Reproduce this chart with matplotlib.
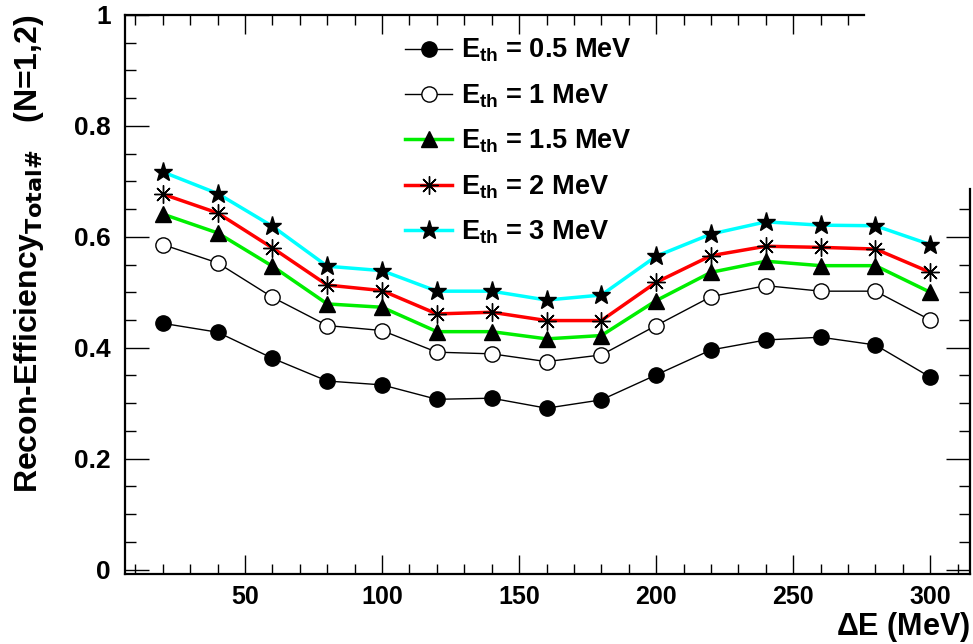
import numpy as np
import matplotlib
matplotlib.use("Agg")
import matplotlib.pyplot as plt
from matplotlib.ticker import MultipleLocator

plt.rcParams['font.family'] = ['Liberation Sans', 'DejaVu Sans']
plt.rcParams['font.weight'] = 'bold'
plt.rcParams['mathtext.fontset'] = 'custom'
plt.rcParams['mathtext.rm'] = 'Liberation Sans:bold'
plt.rcParams['mathtext.bf'] = 'Liberation Sans:bold'
plt.rcParams['mathtext.it'] = 'Liberation Sans:bold'
plt.rcParams['mathtext.default'] = 'bf'

# data
delta_e = [20, 40, 60, 80, 100, 120, 140, 160, 180, 200, 220, 240, 260, 280, 300]
eff_05 = [0.444, 0.428, 0.381, 0.340, 0.333, 0.307, 0.309, 0.291, 0.306, 0.351,
          0.396, 0.414, 0.419, 0.405, 0.347]
eff_1 = [0.586, 0.553, 0.491, 0.440, 0.431, 0.392, 0.389, 0.375, 0.387, 0.440,
         0.492, 0.512, 0.502, 0.502, 0.450]
eff_15 = [0.641, 0.607, 0.547, 0.479, 0.473, 0.429, 0.429, 0.416, 0.422, 0.485,
          0.536, 0.556, 0.548, 0.548, 0.500]
eff_2 = [0.677, 0.643, 0.580, 0.513, 0.503, 0.461, 0.464, 0.449, 0.449, 0.518,
         0.566, 0.583, 0.581, 0.578, 0.536]
eff_3 = [0.717, 0.678, 0.619, 0.547, 0.539, 0.502, 0.502, 0.486, 0.495, 0.565,
         0.605, 0.627, 0.621, 0.620, 0.586]
labels = ["E$_{th}$ = 0.5 MeV", "E$_{th}$ = 1 MeV", "E$_{th}$ = 1.5 MeV",
          "E$_{th}$ = 2 MeV", "E$_{th}$ = 3 MeV"]

W, H = 973, 644
fig = plt.figure(figsize=(W / 100, H / 100), dpi=100)
ax = fig.add_axes([125 / W, (H - 574) / H, (970 - 125) / W, (574 - 15) / H])

x_lo, x_hi = 6.2, 314.5
y_lo, y_hi = -0.008, 1.0

ax.plot(delta_e, eff_05, color='black', lw=1.0, marker='o', ms=11,
        mfc='black', mec='black', label=labels[0])
ax.plot(delta_e, eff_1, color='black', lw=1.0, marker='o', ms=11,
        mfc='white', mec='black', mew=1.0, label=labels[1])
ax.plot(delta_e, eff_15, color='#00ee00', lw=2.5, marker='^', ms=11,
        mfc='black', mec='black', label=labels[2])
ax.plot(delta_e, eff_2, color='#ff0000', lw=2.5, marker=(8, 2, 0), ms=13,
        mfc='black', mec='black', mew=1.0, label=labels[3])
ax.plot(delta_e, eff_3, color='#00ffff', lw=2.5, marker='*', ms=14,
        mfc='black', mec='black', label=labels[4])

ax.set_xlim(x_lo, x_hi)
ax.set_ylim(y_lo, y_hi)

# ROOT-like frame: partial top and right axes
for s in ax.spines.values():
    s.set_linewidth(1.6)
ax.spines['top'].set_bounds(x_lo, 276)
ax.spines['right'].set_bounds(y_lo, 0.686)

ax.xaxis.set_major_locator(MultipleLocator(50))
ax.xaxis.set_minor_locator(MultipleLocator(10))
ax.yaxis.set_major_locator(MultipleLocator(0.2))
ax.yaxis.set_minor_locator(MultipleLocator(0.05))
ax.yaxis.set_major_formatter(plt.FuncFormatter(lambda v, p: "%g" % round(v, 2)))
ax.tick_params(axis='x', which='major', direction='in', length=14, width=1.0,
               labelsize=18, pad=8)
ax.tick_params(axis='x', which='minor', direction='in', length=7, width=1.0)
ax.tick_params(axis='y', which='major', direction='in', length=17, width=1.0,
               labelsize=19, pad=10)
ax.tick_params(axis='y', which='minor', direction='in', length=8, width=1.0)

top = ax.secondary_xaxis('top')
top.set_xticks([50, 100, 150, 200, 250])
top.set_xticks(np.arange(10, 271, 10), minor=True)
top.tick_params(which='major', direction='in', length=14, width=1.0, labeltop=False)
top.tick_params(which='minor', direction='in', length=7, width=1.0)
top.spines['top'].set_visible(False)

right = ax.secondary_yaxis('right')
right.set_yticks([0, 0.2, 0.4, 0.6])
right.set_yticks(np.arange(0, 0.66, 0.05), minor=True)
right.tick_params(which='major', direction='in', length=17, width=1.0, labelright=False)
right.tick_params(which='minor', direction='in', length=8, width=1.0)
right.spines['right'].set_visible(False)

ax.set_ylabel("Recon-Efficiency$_{\\mathsf{Total\\#}}$   (N=1,2)", fontsize=23,
              fontweight='bold', loc='top')
ax.yaxis.set_label_coords(-0.094, 1.0)
ax.set_xlabel("$\\Delta$E (MeV)", fontsize=22, fontweight='bold', loc='right')
ax.xaxis.set_label_coords(1.0, -0.064)

leg = ax.legend(loc='upper left', bbox_to_anchor=(405 / W, 1 - 37 / H),
                bbox_transform=fig.transFigure, frameon=False, fontsize=19.5,
                handlelength=1.75, handletextpad=0.3, labelspacing=0.66,
                borderpad=0, borderaxespad=0)

fig.savefig("out.png", dpi=100)
